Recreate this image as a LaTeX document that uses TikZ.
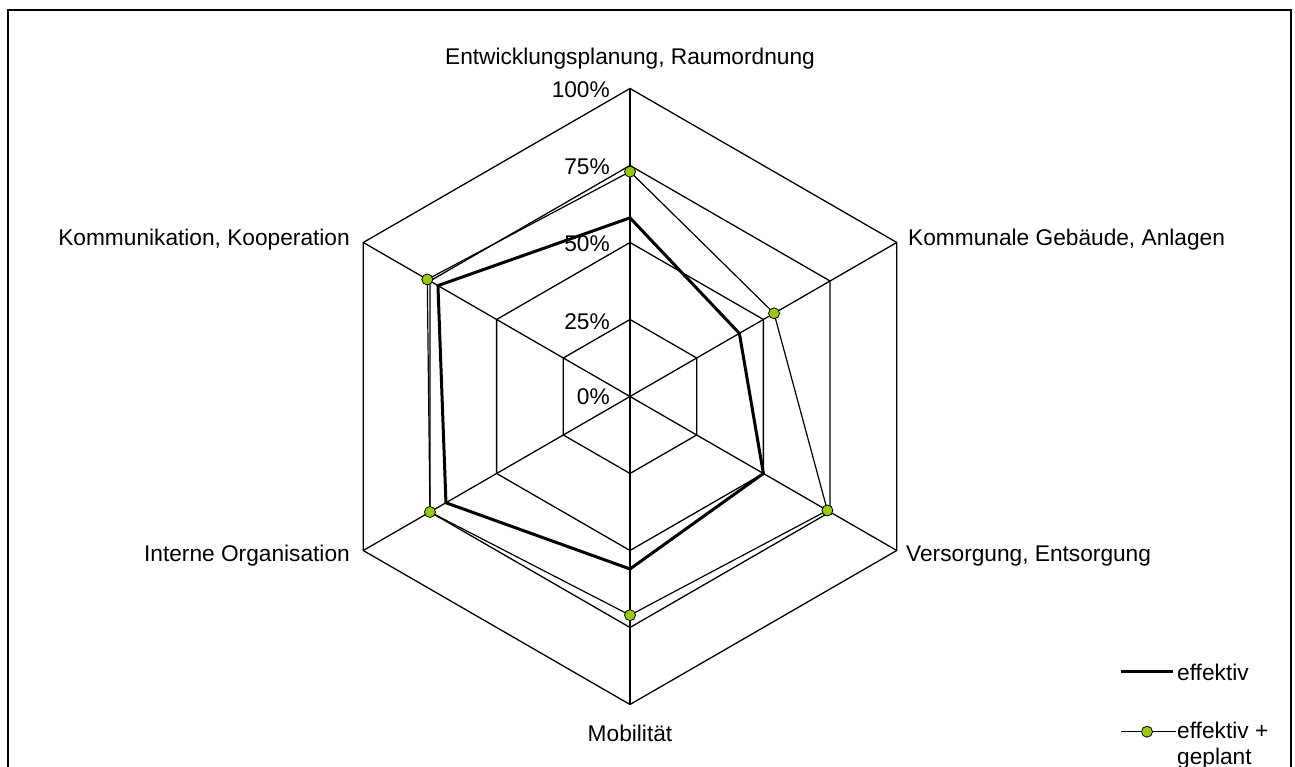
\documentclass[tikz,border=0pt]{standalone}
\usepackage{fontspec}
\setmainfont{Liberation Sans}
\definecolor{dotgreen}{RGB}{153,204,0}
\begin{document}
\begin{tikzpicture}[x=1pt,y=1pt,
  gridline/.style={black, line width=1.3pt},
  effline/.style={black, line width=3pt, line join=miter},
  planline/.style={black, line width=1.2pt, line join=miter},
  dot/.style={circle, draw=black, line width=0.8pt, fill=dotgreen, inner sep=0pt, minimum size=11pt},
  lab/.style={font=\fontsize{22.7}{26}\selectfont, inner sep=0pt},
  frame/.style={black, line width=2.2pt}
]
\useasboundingbox (0,0) rectangle (1295,767);
\coordinate (fb1) at (8,0);
\coordinate (fb2) at (8,757);
\coordinate (fb3) at (1291,757);
\coordinate (fb4) at (1291,0);
\draw[frame] (fb1) -- (fb2) -- (fb3) -- (fb4);

\begin{scope}[shift={(630,370.5)}]
  \coordinate (O) at (0,0);
  % grid hexagons
  \foreach \r in {77,154,231,308} {
    \draw[gridline] (90:\r) -- (30:\r) -- (-30:\r) -- (-90:\r) -- (-150:\r) -- (150:\r) -- cycle;
  }
  % spokes
  \foreach \a [count=\i] in {90,30,-30,-90,-150,150} {
    \coordinate (v\i) at (\a:308);
    \draw[gridline] (O) -- (v\i);
  }
  % data
  \foreach \a/\v [count=\i] in {90/58,30/41,-30/50,-90/56,-150/69,150/72} {
    \coordinate (e\i) at (\a:{\v*3.08});
  }
  \foreach \a/\v [count=\i] in {90/73,30/54,-30/74,-90/71,-150/75,150/76} {
    \coordinate (g\i) at (\a:{\v*3.08});
  }
  \draw[planline] (g1) -- (g2) -- (g3) -- (g4) -- (g5) -- (g6) -- cycle;
  \draw[effline] (e1) -- (e2) -- (e3) -- (e4) -- (e5) -- (e6) -- cycle;
  \foreach \i in {1,...,6} { \node[dot] (gd\i) at (g\i) {}; }
\end{scope}

% axis labels
\node[lab] (t1) at (630,708) {Entwicklungsplanung, Raumordnung};
\node[lab, anchor=west] (t2) at (908,527) {Kommunale Gebäude, Anlagen};
\node[lab, anchor=west] (t3) at (906,211) {Versorgung, Entsorgung};
\node[lab] (t4) at (630,34) {Mobilität};
\node[lab, anchor=east] (t5) at (350,211) {Interne Organisation};
\node[lab, anchor=east] (t6) at (350,527) {Kommunikation, Kooperation};

% scale labels
\node[lab, anchor=east] (p100) at (610,677) {100\%};
\node[lab, anchor=east] (p75) at (610,600) {75\%};
\node[lab, anchor=east] (p50) at (610,523) {50\%};
\node[lab, anchor=east] (p25) at (610,445.5) {25\%};
\node[lab, anchor=east] (p0) at (610,370) {0\%};

% legend
\coordinate (l1a) at (1121,95);
\coordinate (l1b) at (1173,95);
\draw[effline] (l1a) -- (l1b);
\node[lab, anchor=west] (lt1) at (1177,95) {effektiv};
\coordinate (l2a) at (1121,35.3);
\coordinate (l2b) at (1176,35.3);
\draw[planline] (l2a) -- (l2b);
\node[dot] (ld) at (1147,35.3) {};
\node[lab, anchor=north west, align=left] (lt2) at (1177,45) {effektiv +\\geplant};
\end{tikzpicture}
\end{document}
